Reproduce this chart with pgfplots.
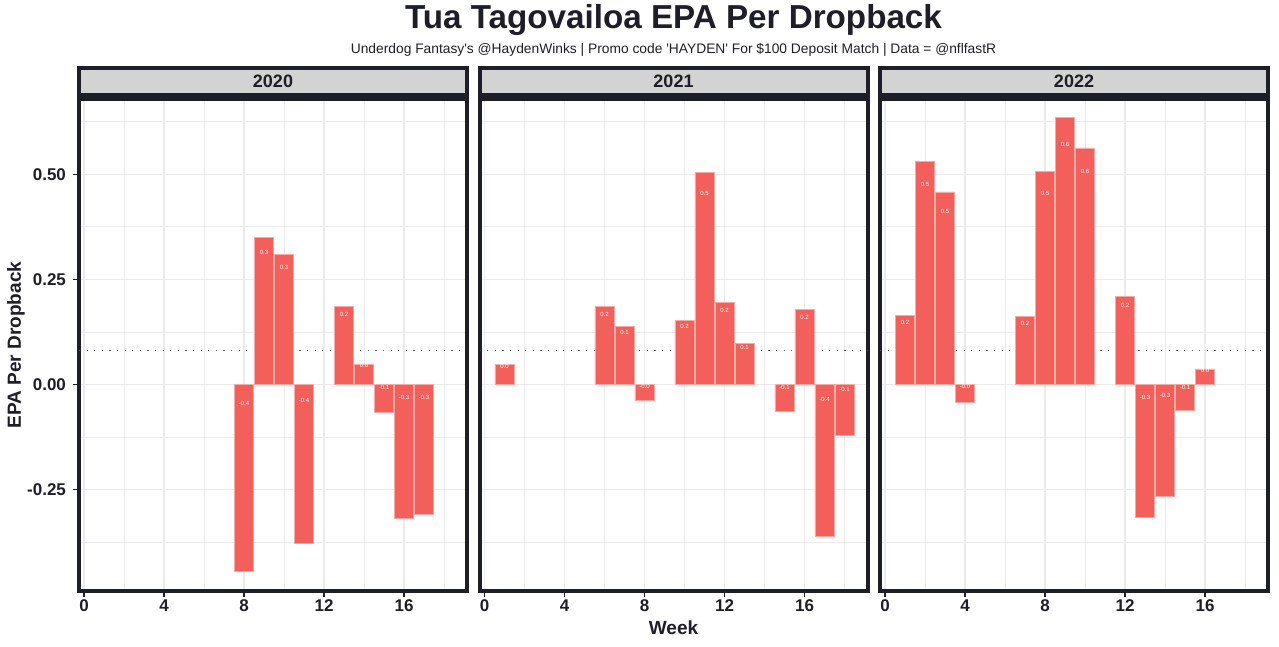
\documentclass[border=0pt]{standalone}
\usepackage{pgfplots}
\pgfplotsset{compat=1.18}
\usepackage{pgfplotstable}
\usepackage{fontspec}
\setmainfont{Liberation Sans}

\definecolor{barred}{HTML}{F35F5B}
\definecolor{barline}{HTML}{F9A9A6}
\definecolor{frame}{HTML}{1E1F26}
\definecolor{gridc}{HTML}{EBEBEB}
\definecolor{stripc}{HTML}{D3D3D3}

% week, EPA per dropback, printed label
\pgfplotstableread{
wk v lab
8 -0.444 -0.4
9 0.349 0.3
10 0.309 0.3
11 -0.377 -0.4
13 0.185 0.2
14 0.049 0.0
15 -0.067 -0.1
16 -0.319 -0.3
17 -0.310 -0.3
}\seasonA

\pgfplotstableread{
wk v lab
1 0.048 0.0
6 0.185 0.2
7 0.138 0.1
8 -0.039 -0.0
10 0.152 0.2
11 0.504 0.5
12 0.196 0.2
13 0.098 0.1
15 -0.064 -0.1
16 0.178 0.2
17 -0.361 -0.4
18 -0.121 -0.1
}\seasonB

\pgfplotstableread{
wk v lab
1 0.164 0.2
2 0.530 0.5
3 0.458 0.5
4 -0.043 -0.0
7 0.161 0.2
8 0.506 0.5
9 0.635 0.6
10 0.563 0.6
12 0.209 0.2
13 -0.316 -0.3
14 -0.267 -0.3
15 -0.061 -0.1
16 0.037 0.0
}\seasonC

\pgfplotsset{
  panel/.style={
    scale only axis, width=194pt, height=246.15pt,
    anchor=south west,
    xmin=-0.25, xmax=19.15, ymin=-0.4917, ymax=0.680,
    xtick={0,4,8,12,16}, xticklabels={0,4,8,12,16},
    minor xtick={2,6,10,14,18},
    ytick={-0.25,0,0.25,0.5}, yticklabels={-0.25,0.00,0.25,0.50},
    minor ytick={-0.375,-0.125,0.125,0.375,0.625},
    grid=both,
    major grid style={gridc, line width=0.6pt},
    minor grid style={gridc, line width=0.35pt},
    axis line style={frame, line width=2pt},
    tick align=outside, major tick length=3pt, minor tick length=0pt,
    xtick pos=bottom, ytick pos=left,
    major tick style={frame, line width=0.7pt},
    ticklabel style={font=\fontsize{8.5}{10}\selectfont\bfseries, text=frame},
    xticklabel style={inner sep=1pt},
  },
  noy/.style={yticklabels={}, ytick style={draw=none}},
}

\newcommand{\season}[1]{%
  \addplot[frame!75, line width=0.7pt, dash pattern=on 0.6pt off 3.2pt]
    coordinates {(-0.25,0.08) (19.15,0.08)};
  \addplot[ybar, bar width=0.97, bar shift=0pt, fill=barred, draw=barline, line width=0.3pt]
    table[x=wk, y=v] {#1};
  \addplot[draw=none, mark=none, nodes near coords, point meta=explicit symbolic,
    nodes near coords align={center},
    every node near coord/.style={anchor=center, inner sep=0pt, text=white,
      font=\fontsize{3}{3.5}\selectfont}]
    table[x=wk, y expr={ifthenelse(\thisrow{v}>0,0.9*\thisrow{v},0.1*\thisrow{v})}, meta=lab] {#1};
}

\begin{document}
\begin{tikzpicture}
\useasboundingbox (0,0) rectangle (639.5pt,323.5pt);

\begin{axis}[panel, at={(39.5pt,28pt)}]
\season{\seasonA}
\end{axis}
\begin{axis}[panel, noy, at={(239.75pt,28pt)}]
\season{\seasonB}
\end{axis}
\begin{axis}[panel, noy, at={(440pt,28pt)}]
\season{\seasonC}
\end{axis}

% facet strips
\foreach \l/\r/\c/\yr in {39.5/233.5/136.5/2020, 239.75/433.75/336.75/2021, 440/634/537/2022}{
  \draw[frame, line width=2pt, fill=stripc] (\l pt,276pt) rectangle (\r pt,289.5pt);
  \node[font=\fontsize{9}{10}\selectfont\bfseries, text=frame] at (\c pt,282.75pt) {\yr};
}

\node[font=\fontsize{16.6}{18}\selectfont\bfseries, text=frame] at (336.75pt,313.5pt)
  {Tua Tagovailoa EPA Per Dropback};
\node[font=\fontsize{6.9}{8}\selectfont, text=frame] at (336.75pt,298.5pt)
  {Underdog Fantasy\textquotesingle s @HaydenWinks | Promo code \textquotesingle HAYDEN\textquotesingle{} For \$100 Deposit Match | Data = @nflfastR};
\node[rotate=90, font=\fontsize{9.5}{11}\selectfont\bfseries, text=frame] at (8pt,151pt)
  {EPA Per Dropback};
\node[font=\fontsize{9.5}{11}\selectfont\bfseries, text=frame] at (336.75pt,9.5pt) {Week};
\end{tikzpicture}
\end{document}
